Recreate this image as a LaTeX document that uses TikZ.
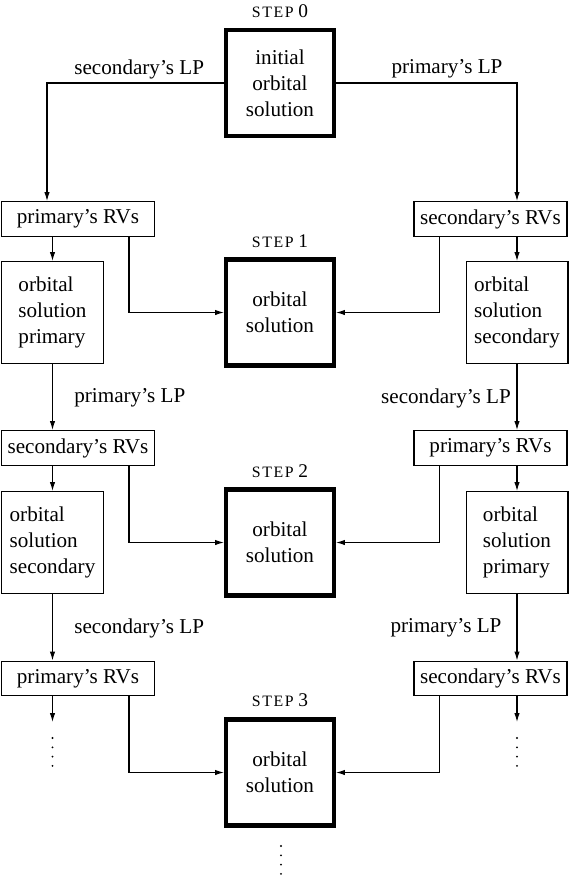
\documentclass[tikz,border=0pt]{standalone}
\usepackage{fontspec}
\setmainfont{Liberation Serif}
\usetikzlibrary{arrows.meta, positioning, calc}

\newcommand{\steptext}[1]{{\fontsize{9pt}{10pt}\selectfont\addfontfeature{LetterSpace=10}STEP}\ #1}

\begin{document}
\begin{tikzpicture}[x=0.568pt, y=-0.568pt,
  font=\fontsize{12pt}{14.8pt}\selectfont,
  >={Latex[length=5pt,width=3pt]},
  line width=0.6pt,
  rvbox/.style={draw, minimum width=86.9pt, minimum height=19.8pt, inner sep=1pt},
  orbbox/.style={draw, align=left, minimum width=57.9pt, minimum height=57.9pt, inner sep=1pt},
  solbox/.style={draw, line width=2.3pt, align=center, minimum width=61.3pt, minimum height=60.2pt},
  steplabel/.style={font=\fontsize{11pt}{13pt}\selectfont}]
\useasboundingbox (0,0) rectangle (571,875);

% step 0
\node[steplabel] (step0) at (280,11) {\steptext{0}};
\node[solbox] (init) at (280,83) {initial\\orbital\\solution};
\node[anchor=west] (lp0l) at (68,69) {secondary's LP};
\node (lp0r) at (447,69) {primary's LP};

% step 1
\node[rvbox] (rvA_l) at (78,219) {primary's RVs};
\node[rvbox] (rvA_r) at (490.5,219) {secondary's RVs};
\node[steplabel] (step1) at (280,241) {\steptext{1}};
\node[solbox] (solA) at (280,312.5) {orbital\\solution};
\node[orbbox] (orbB_l) at (52.5,312.5) {orbital\\solution\\primary};
\node[orbbox] (orbB_r) at (517,312.5) {orbital\\solution\\secondary};
\node[anchor=west] (lpB_l) at (68,398) {primary's LP};
\node (lpB_r) at (446,398) {secondary's LP};

% step 2
\node[rvbox] (rvC_l) at (78,448) {secondary's RVs};
\node[rvbox] (rvC_r) at (490.5,448) {primary's RVs};
\node[steplabel] (step2) at (280,471) {\steptext{2}};
\node[solbox] (solC) at (280,542.5) {orbital\\solution};
\node[orbbox] (orbD_l) at (52.5,542.5) {orbital\\solution\\secondary};
\node[orbbox] (orbD_r) at (517,542.5) {orbital\\solution\\primary};
\node[anchor=west] (lpD_l) at (68,628) {secondary's LP};
\node (lpD_r) at (446,628) {primary's LP};

% step 3
\node[rvbox] (rvE_l) at (78,678.5) {primary's RVs};
\node[rvbox] (rvE_r) at (490.5,678.5) {secondary's RVs};
\node[steplabel] (step3) at (280,700) {\steptext{3}};
\node[solbox] (solE) at (280,772.5) {orbital\\solution};
\coordinate (endl) at (52.5,722);
\coordinate (endr) at (517,722);
\coordinate (endm) at (281,830);

% from the initial solution
\draw[->] (init.west) -| ($(rvA_l.north)+(-31,0)$);
\draw[->] (init.east) -| (orbB_r.north |- rvA_r.north);

% RVs down to the orbits, and into the combined solutions
\foreach \rv/\orb/\sol in {rvA/orbB/solA, rvC/orbD/solC} {
  \draw[->] (\orb_l.north |- \rv_l.south) -- (\orb_l.north);
  \draw[->] (\orb_r.north |- \rv_r.south) -- (\orb_r.north);
  \draw[->] ($(\rv_l.south)+(51,0)$) |- (\sol.west);
  \draw[->] ($(\rv_r.south)+(-51,0)$) |- (\sol.east);
}
\draw[->] ($(rvE_l.south)+(51,0)$) |- (solE.west);
\draw[->] ($(rvE_r.south)+(-51,0)$) |- (solE.east);

% orbits down to the next RVs
\draw[->] (orbB_l.south) -- (orbB_l.south |- rvC_l.north);
\draw[->] (orbB_r.south) -- (orbB_r.south |- rvC_r.north);
\draw[->] (orbD_l.south) -- (orbD_l.south |- rvE_l.north);
\draw[->] (orbD_r.south) -- (orbD_r.south |- rvE_r.north);

% and so on
\draw[->] (endl |- rvE_l.south) -- (endl);
\draw[->] (endr |- rvE_r.south) -- (endr);
\foreach \k in {0,...,3} {
  \fill (endl) ++(0,16+9.3*\k) circle (0.6pt);
  \fill (endr) ++(0,16+9.3*\k) circle (0.6pt);
  \fill (endm) ++(0,16+9.3*\k) circle (0.6pt);
}
\end{tikzpicture}
\end{document}
